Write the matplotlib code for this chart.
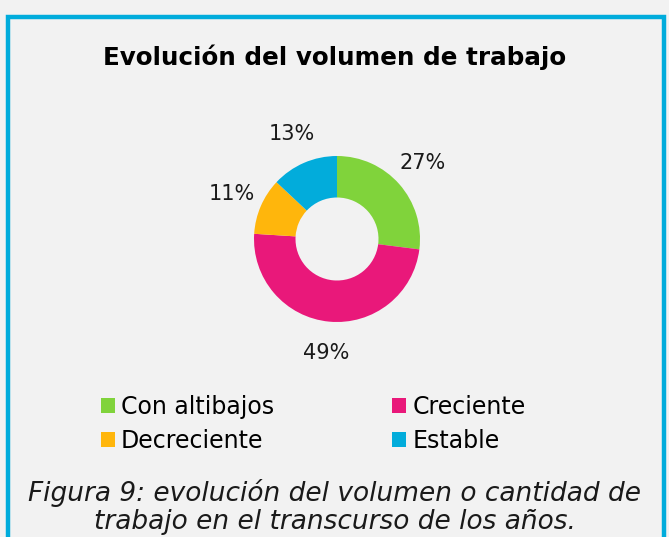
import matplotlib.pyplot as plt
from matplotlib.patches import Rectangle, Patch

categories = ['Con altibajos', 'Creciente', 'Decreciente', 'Estable']
values = [27, 49, 11, 13]
colors = ['#80d33b', '#e9187a', '#ffb60c', '#02acdb']

W, H = 669, 537
fig = plt.figure(figsize=(W / 100, H / 100), dpi=100)
fig.patch.set_facecolor('#f2f2f2')

# blue frame (open at the bottom)
fig.patches.append(Rectangle((8 / W, -0.05), (664 - 8) / W, (H - 17) / H + 0.05,
                             transform=fig.transFigure, fill=False,
                             edgecolor='#00acdc', linewidth=3.2))

# donut centred at (337, 239) px, radius 83 px
cx, cy, r = 337, 239, 83
ax = fig.add_axes([(cx - r) / W, (H - cy - r) / H, 2 * r / W, 2 * r / H])
ax.pie(values, colors=colors, startangle=90, counterclock=False, radius=1,
       wedgeprops=dict(width=0.5, edgecolor='none'),
       autopct='%d%%', pctdistance=1.38,
       textprops=dict(fontsize=15, color='#1a1a1a'))
ax.set_xlim(-1, 1)
ax.set_ylim(-1, 1)
ax.set_aspect('equal')

fig.text(0.5, 1 - 57 / H, 'Evolución del volumen de trabajo', ha='center', va='center',
         fontsize=17.7, fontweight='bold', color='black')

# row-wise order for a two-column legend
order = [0, 2, 1, 3]
handles = [Patch(facecolor=colors[i], edgecolor='none') for i in order]
labels = [categories[i] for i in order]
fig.legend(handles, labels, ncol=2, loc='center left',
           bbox_to_anchor=(101 / W, 1 - 424 / H), frameon=False, fontsize=17,
           borderpad=0, borderaxespad=0,
           handlelength=0.6, handleheight=0.6, handletextpad=0.25,
           columnspacing=5.0, labelspacing=0.45)

fig.text(0.5, 1 - 507 / H, 'Figura 9: evolución del volumen o cantidad de\ntrabajo en el transcurso de los años.',
         ha='center', va='center', fontsize=19, style='italic', color='#1a1a1a',
         linespacing=1.12)

fig.savefig('out.png', dpi=100, facecolor=fig.get_facecolor())
